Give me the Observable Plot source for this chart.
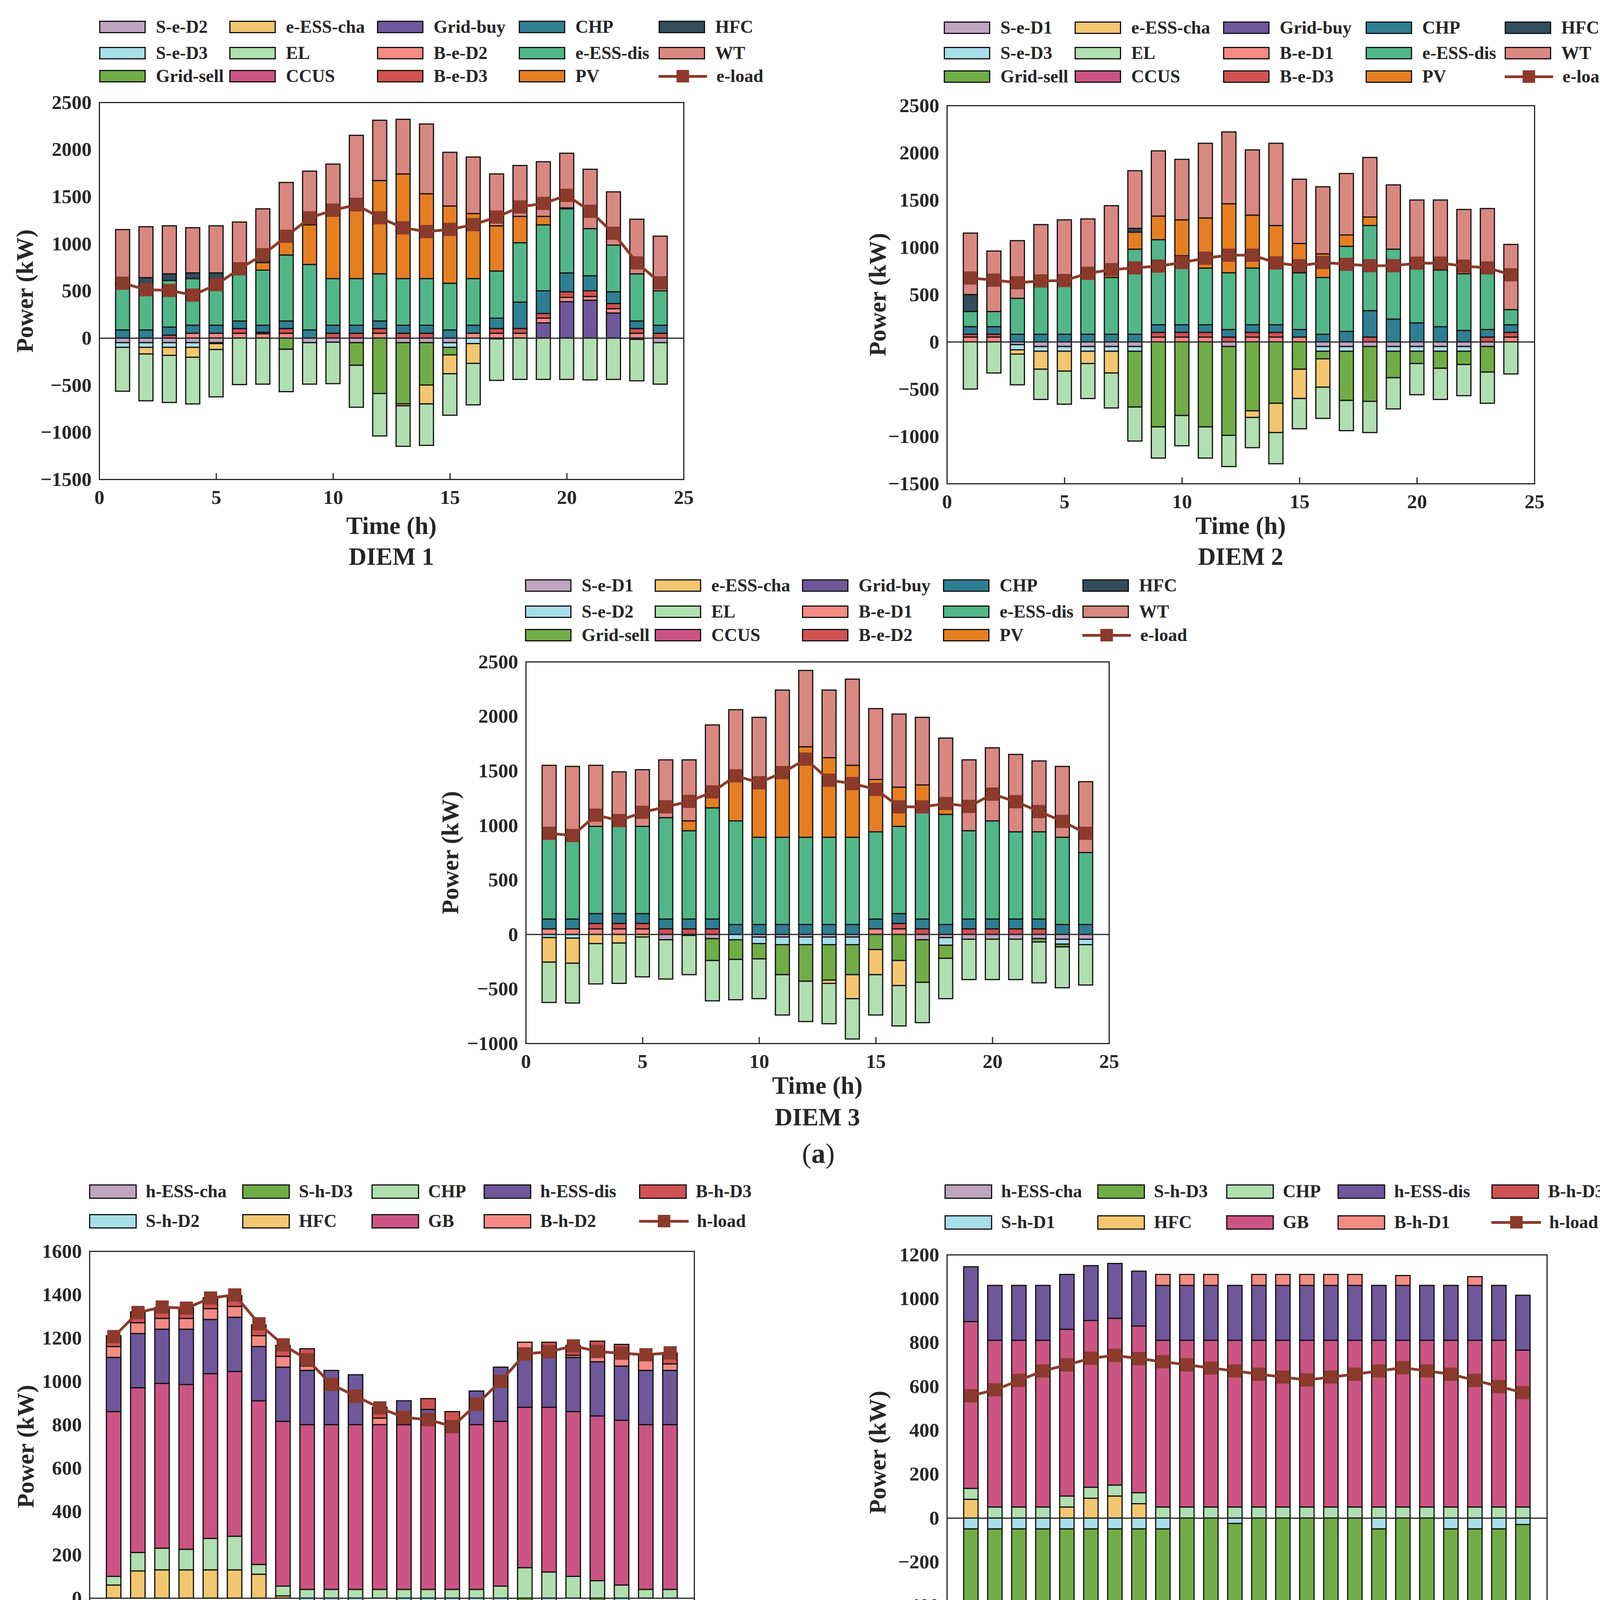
<!DOCTYPE html>
<html><head><meta charset="utf-8">
<script src="https://cdn.jsdelivr.net/npm/d3@7"></script>
<script src="https://cdn.jsdelivr.net/npm/@observablehq/plot@0.6"></script>
<style>
html,body{margin:0;padding:0;background:#fff;}
body{width:4155px;height:6000px;position:relative;font-family:"Liberation Serif","Times New Roman",serif;font-weight:bold;color:#262626;}
.t{position:absolute;white-space:nowrap;line-height:1;}
.sw{position:absolute;box-sizing:border-box;border:3px solid #111;}
</style></head>
<body>
<script>
// ---------- shared ----------
const hours = [1,2,3,4,5,6,7,8,9,10,11,12,13,14,15,16,17,18,19,20,21,22,23,24];
const xTicks = [0,5,10,15,20,25];
const yTicksA12 = [-1500,-1000,-500,0,500,1000,1500,2000,2500];
const yTicksA3 = [-1000,-500,0,500,1000,1500,2000,2500];
const yTicksB13 = [-200,0,200,400,600,800,1000,1200,1400,1600];
const yTicksB2 = [-600,-400,-200,0,200,400,600,800,1000,1200];

// ---------- (a) DIEM 1 electric ----------
const a1_SeD2 = [-50,-50,-50,-50,-50,0,0,0,-50,-45,-50,0,-50,-50,-50,0,-10,0,0,0,0,0,-15,-50];
const a1_SeD3 = [-50,-50,-50,-50,-10,0,0,0,0,0,0,0,0,0,-50,-60,0,0,0,0,0,0,0,0];
const a1_GridSell = [0,0,0,0,0,0,0,-120,0,0,-240,-590,-650,-450,-80,0,0,0,0,0,0,0,0,0];
const a1_EssCha = [0,-70,-85,-105,-63,0,0,0,0,0,0,0,-20,-200,-200,-210,0,0,0,0,0,0,0,0];
const a1_EL = [-465,-497,-500,-495,-502,-495,-490,-450,-440,-440,-445,-450,-430,-440,-440,-440,-440,-440,-440,-440,-445,-440,-440,-440];
const a1_CCUS = [0,0,0,0,0,0,0,0,0,0,0,0,0,0,0,0,0,0,0,0,0,0,0,0];
const a1_GridBuy = [0,0,0,0,0,0,0,0,0,0,0,0,0,0,0,0,0,0,160,385,400,265,0,0];
const a1_BeD2 = [0,0,0,50,50,50,45,50,0,0,0,50,0,0,0,50,50,50,50,45,40,45,50,0];
const a1_BeD3 = [0,0,30,0,0,50,15,50,0,50,50,50,50,50,0,0,50,50,50,60,60,55,50,50];
const a1_CHP = [85,85,85,85,85,80,75,80,85,85,85,80,85,85,85,85,110,280,240,200,160,125,80,85];
const a1_EssDis = [485,490,495,495,495,510,585,700,695,495,495,500,495,495,495,495,500,630,700,680,500,495,500,365];
const a1_PV = [0,0,0,0,0,0,80,215,420,685,850,990,1110,900,820,690,480,280,90,10,0,0,0,0];
const a1_HFC = [0,65,70,60,60,0,25,0,0,0,0,0,0,0,0,0,0,0,0,0,0,0,0,0];
const a1_WT = [580,540,510,480,500,540,545,555,570,530,670,640,580,740,570,600,550,540,580,580,630,565,580,580];
const a1_eLoad = [583,514,506,456,568,736,886,1081,1277,1358,1415,1277,1170,1131,1154,1204,1285,1392,1430,1515,1346,1112,798,587];

// ---------- (a) DIEM 2 electric ----------
const a2_SeD1 = [0,0,-30,-50,-50,-50,-50,-50,0,0,0,-50,0,0,0,-50,-50,-50,-50,-50,-50,-50,-50,0];
const a2_SeD3 = [0,0,-55,-50,-50,-50,-50,-50,0,0,0,0,0,0,0,-50,-50,0,-50,-50,-50,-50,0,0];
const a2_GridSell = [0,0,0,0,0,0,0,-590,-900,-780,-900,-940,-730,-650,-290,-80,-520,-580,-280,-130,-180,-140,-270,0];
const a2_EssCha = [0,0,-45,-190,-210,-130,-230,0,0,0,0,0,-70,-310,-310,-300,0,0,0,0,0,0,0,0];
const a2_EL = [-500,-330,-325,-320,-350,-370,-370,-360,-330,-320,-330,-330,-320,-330,-320,-330,-320,-330,-330,-330,-330,-330,-330,-340];
const a2_CCUS = [0,0,0,0,0,0,0,0,0,0,0,0,0,0,0,0,0,0,0,0,0,0,0,0];
const a2_GridBuy = [0,0,0,0,0,0,0,0,0,0,0,0,0,0,0,0,0,0,0,0,0,0,0,0];
const a2_BeD1 = [50,50,0,0,0,0,0,0,50,50,50,0,50,50,50,0,0,0,0,0,0,0,0,50];
const a2_BeD3 = [30,30,0,0,0,0,0,0,50,50,50,50,50,50,0,0,0,50,0,0,0,0,50,50];
const a2_CHP = [80,80,80,80,80,80,80,80,80,80,80,80,80,80,80,80,110,280,240,200,160,120,80,80];
const a2_EssDis = [160,160,380,560,620,660,600,900,900,730,600,600,600,600,600,600,900,900,740,600,600,600,600,160];
const a2_PV = [0,0,0,0,0,0,40,180,250,380,530,730,560,450,310,250,120,90,0,0,0,0,0,0];
const a2_HFC = [180,0,0,0,0,0,0,40,0,0,0,0,0,0,0,0,0,0,0,0,0,0,0,0];
const a2_WT = [650,640,610,600,590,560,720,610,690,640,790,760,690,870,680,710,650,630,680,700,740,680,680,690];
const a2_eLoad = [677,654,627,646,650,727,765,784,803,841,887,918,918,837,807,841,822,807,807,834,834,803,784,711];

// ---------- (a) DIEM 3 electric ----------
const a3_SeD1 = [0,0,0,0,0,-50,-10,-40,0,-25,-25,-25,-25,-25,0,0,-50,-30,-45,-45,-45,-40,-45,-45];
const a3_SeD2 = [-30,-35,0,0,0,0,0,0,-50,-60,-70,-70,-70,-70,0,0,0,-70,0,0,0,0,-45,-50];
const a3_GridSell = [0,0,0,0,0,0,0,-200,-180,-140,-275,-335,-325,-275,-140,-240,-390,-120,0,0,0,-30,-25,0];
const a3_EssCha = [-225,-230,-85,-80,-25,0,0,0,0,0,0,0,-30,-220,-230,-230,0,0,0,0,0,0,0,0];
const a3_EL = [-370,-365,-370,-370,-365,-360,-360,-370,-370,-365,-370,-370,-370,-370,-370,-370,-370,-370,-370,-370,-370,-375,-375,-370];
const a3_CCUS = [0,0,0,0,0,0,0,0,0,0,0,0,0,0,0,0,0,0,0,0,0,0,0,0];
const a3_GridBuy = [0,0,0,0,0,0,0,0,0,0,0,0,0,0,0,0,0,0,0,0,0,0,0,0];
const a3_BeD1 = [50,50,50,50,50,0,0,0,0,0,0,0,0,0,50,50,0,0,0,0,0,0,0,0];
const a3_BeD2 = [0,0,50,50,50,50,50,50,0,0,0,0,0,0,0,50,50,0,50,50,50,50,0,0];
const a3_CHP = [90,90,90,90,90,90,90,90,90,90,90,90,90,90,90,90,90,90,90,90,90,90,90,90];
const a3_EssDis = [740,740,800,800,800,930,810,1020,950,800,800,800,800,800,800,800,1000,1010,810,900,800,800,800,660];
const a3_PV = [0,0,0,0,0,0,90,150,420,490,610,830,730,660,480,360,230,50,0,0,0,0,0,0];
const a3_HFC = [0,0,0,0,0,0,0,0,0,0,0,0,0,0,0,0,0,0,0,0,0,0,0,0];
const a3_WT = [670,660,560,500,520,530,560,610,600,610,740,700,620,790,650,670,620,650,650,670,710,650,650,650];
const a3_eLoad = [928,908,1095,1045,1121,1171,1221,1308,1455,1392,1485,1608,1415,1385,1331,1171,1171,1201,1175,1288,1218,1128,1038,928];

// ---------- (b) DIEM 1 heat ----------
const b1_hEssCha = [0,0,0,0,0,0,0,0,0,0,0,0,0,0,0,0,0,0,0,0,0,0,0,0];
const b1_ShD2 = [0,0,0,0,0,0,0,0,-50,-50,-50,0,-50,-50,-50,-50,-50,0,-47,0,0,-40,0,0];
const b1_ShD3 = [0,0,0,0,0,0,0,0,0,-20,-50,0,-25,-45,-15,-10,-20,-50,0,0,-50,0,0,0];
const b1_HFC = [60,125,130,130,130,130,110,10,0,0,0,0,0,0,0,0,0,0,0,0,0,0,0,0];
const b1_CHP = [40,85,100,95,145,155,45,45,40,40,40,40,40,40,40,40,55,140,120,100,80,60,40,40];
const b1_GB = [760,760,760,760,760,760,755,760,760,760,760,760,760,760,760,760,760,740,760,760,760,760,760,760];
const b1_hEssDis = [250,250,250,255,250,250,250,250,250,250,230,0,110,70,0,155,250,250,250,250,250,250,250,250];
const b1_BhD2 = [50,50,50,50,50,50,50,50,20,0,0,30,0,0,0,0,0,50,30,10,50,50,70,30];
const b1_BhD3 = [50,50,50,50,50,50,50,50,80,0,0,50,0,50,60,0,0,0,20,45,45,50,0,50];
const b1_hLoad = [1207,1318,1343,1338,1385,1399,1266,1169,1100,986,932,878,834,824,792,895,1001,1127,1137,1164,1138,1130,1123,1132];

// ---------- (b) DIEM 2 heat ----------
const b2_hEssCha = [0,0,0,0,0,0,0,0,0,0,0,0,0,0,0,0,0,0,0,0,0,0,0,0];
const b2_ShD1 = [-50,-50,-50,-50,-50,-50,-50,-50,-50,0,0,-25,0,0,0,0,0,-50,0,0,-50,-50,-50,-30];
const b2_ShD3 = [-540,-420,-380,-340,-360,-375,-370,-345,-345,-410,-425,-365,-455,-470,-480,-470,-455,-340,-420,-390,-355,-420,-410,-415];
const b2_HFC = [85,0,0,0,50,90,100,65,0,0,0,0,0,0,0,0,0,0,0,0,0,0,0,0];
const b2_CHP = [50,50,50,50,50,50,50,50,50,50,50,50,50,50,50,50,50,50,50,50,50,50,50,50];
const b2_GB = [760,760,760,760,760,760,760,760,760,760,760,760,760,760,760,760,760,760,760,760,760,760,760,715];
const b2_hEssDis = [250,250,250,250,250,250,250,250,250,250,250,250,250,250,250,250,250,250,250,250,250,250,250,250];
const b2_BhD1 = [0,0,0,0,0,0,0,0,50,50,50,0,50,50,50,50,50,0,45,0,0,40,0,0];
const b2_BhD3 = [0,0,0,0,0,0,0,0,0,0,0,0,0,0,0,0,0,0,0,0,0,0,0,0];
const b2_hLoad = [558,585,628,671,699,729,742,727,713,699,684,671,656,643,630,643,656,671,686,671,656,628,600,572];

// ---------- (b) DIEM 3 heat ----------
const b3_hEssCha = [0,0,0,0,0,0,0,0,0,0,0,0,0,0,0,0,0,0,0,0,0,0,0,0];
const b3_ShD1 = [-50,-50,-50,-50,-50,-50,-50,-50,-50,0,0,-50,0,-50,-50,0,0,0,-50,-50,-45,-50,-20,-50];
const b3_ShD2 = [0,0,0,0,0,0,0,0,0,0,0,0,0,0,0,0,0,0,0,0,0,0,0,0];
const b3_HFC = [0,0,0,0,0,0,0,0,0,0,0,0,0,0,0,0,0,0,0,0,0,0,0,0];
const b3_BhD2 = [535,420,380,335,360,375,365,345,345,410,420,365,455,465,480,465,455,340,420,390,355,420,410,410];
const b3_CHP = [45,45,45,50,45,45,45,45,45,45,50,45,40,45,45,45,40,45,45,40,40,45,45,45];
const b3_GB = [380,675,765,760,760,760,765,760,760,760,760,760,765,760,760,760,765,760,760,765,765,760,500,350];
const b3_hEssDis = [0,0,100,230,250,250,250,250,240,110,30,175,20,0,0,15,70,170,205,220,205,125,250,250];
const b3_BhD1 = [0,0,0,0,0,0,0,0,0,0,40,0,0,50,20,0,0,55,0,0,20,0,0,0];
const b3_hLoad = [906,1089,1238,1322,1362,1379,1370,1352,1337,1321,1310,1293,1280,1266,1251,1280,1326,1364,1379,1362,1337,1295,1180,1003];

// ---------- styles ----------
const COL = {
  lav:"#C0A5C1", lblue:"#A8DEEA", green:"#71AD47", yellow:"#F2C76F", lgreen:"#B0DFB0",
  magenta:"#CC5483", purple:"#6E579B", salmon:"#F48B84", red:"#D15252", teal:"#2E7F92",
  ess:"#52B788", orange:"#E67F22", slate:"#344D5B", wt:"#D98880", load:"#8C3A2B"
};
const INK = "#262626";
const TICK_FS = 51, LEG_FS = 46, LAB_FS = 63;

// ---------- panel definitions ----------
const panels = [
 { frame:[254,262,1496,965], yDomain:[-1500,2500], yTicks:yTicksA12,
   stack:[["S-e-D2",a1_SeD2],["S-e-D3",a1_SeD3],["Grid-sell",a1_GridSell],["e-ESS-cha",a1_EssCha],["EL",a1_EL],["CCUS",a1_CCUS],
          ["Grid-buy",a1_GridBuy],["B-e-D2",a1_BeD2],["B-e-D3",a1_BeD3],["CHP",a1_CHP],["e-ESS-dis",a1_EssDis],["PV",a1_PV],["HFC",a1_HFC],["WT",a1_WT]],
   load:["e-load",a1_eLoad],
   legend:[["S-e-D2","lav"],["S-e-D3","lblue"],["Grid-sell","green"],["e-ESS-cha","yellow"],["EL","lgreen"],["CCUS","magenta"],["Grid-buy","purple"],["B-e-D2","salmon"],["B-e-D3","red"],["CHP","teal"],["e-ESS-dis","ess"],["PV","orange"],["HFC","slate"],["WT","wt"],["e-load","line"]],
   leg:{left:254, rows:[69,136,195], cols:[0,333,711,1074,1432], sw:[119,32]},
   title:"DIEM 1", timeY:1346, titleY:1425, ylabX:63 },
 { frame:[2424,270,1504,968], yDomain:[-1500,2500], yTicks:yTicksA12,
   stack:[["S-e-D1",a2_SeD1],["S-e-D3",a2_SeD3],["Grid-sell",a2_GridSell],["e-ESS-cha",a2_EssCha],["EL",a2_EL],["CCUS",a2_CCUS],
          ["Grid-buy",a2_GridBuy],["B-e-D1",a2_BeD1],["B-e-D3",a2_BeD3],["CHP",a2_CHP],["e-ESS-dis",a2_EssDis],["PV",a2_PV],["HFC",a2_HFC],["WT",a2_WT]],
   load:["e-load",a2_eLoad],
   legend:[["S-e-D1","lav"],["S-e-D3","lblue"],["Grid-sell","green"],["e-ESS-cha","yellow"],["EL","lgreen"],["CCUS","magenta"],["Grid-buy","purple"],["B-e-D1","salmon"],["B-e-D3","red"],["CHP","teal"],["e-ESS-dis","ess"],["PV","orange"],["HFC","slate"],["WT","wt"],["e-load","line"]],
   leg:{left:2416, rows:[71,136,196], cols:[0,335,715,1080,1436], sw:[119,32]},
   title:"DIEM 2", timeY:1346, titleY:1425, ylabX:2246 },
 { frame:[1346,1694,1493,977], yDomain:[-1000,2500], yTicks:yTicksA3,
   stack:[["S-e-D1",a3_SeD1],["S-e-D2",a3_SeD2],["Grid-sell",a3_GridSell],["e-ESS-cha",a3_EssCha],["EL",a3_EL],["CCUS",a3_CCUS],
          ["Grid-buy",a3_GridBuy],["B-e-D1",a3_BeD1],["B-e-D2",a3_BeD2],["CHP",a3_CHP],["e-ESS-dis",a3_EssDis],["PV",a3_PV],["HFC",a3_HFC],["WT",a3_WT]],
   load:["e-load",a3_eLoad],
   legend:[["S-e-D1","lav"],["S-e-D2","lblue"],["Grid-sell","green"],["e-ESS-cha","yellow"],["EL","lgreen"],["CCUS","magenta"],["Grid-buy","purple"],["B-e-D1","salmon"],["B-e-D2","red"],["CHP","teal"],["e-ESS-dis","ess"],["PV","orange"],["HFC","slate"],["WT","wt"],["e-load","line"]],
   leg:{left:1344, rows:[1499,1566,1626], cols:[0,332,709,1070,1427], sw:[119,32]},
   title:"DIEM 3", timeY:2779, titleY:2860, ylabX:1152 },
 { frame:[229,3203,1548,999], yDomain:[-200,1600], yTicks:yTicksB13,
   stack:[["h-ESS-cha",b1_hEssCha],["S-h-D2",b1_ShD2],["S-h-D3",b1_ShD3],["HFC",b1_HFC],["CHP",b1_CHP],["GB",b1_GB],["h-ESS-dis",b1_hEssDis],["B-h-D2",b1_BhD2],["B-h-D3",b1_BhD3]],
   load:["h-load",b1_hLoad],
   legend:[["h-ESS-cha","lav"],["S-h-D2","lblue"],["S-h-D3","green"],["HFC","yellow"],["CHP","lgreen"],["GB","magenta"],["h-ESS-dis","purple"],["B-h-D2","salmon"],["B-h-D3","red"],["h-load","line"]],
   leg:{left:228, rows:[3050,3126], cols:[0,392,723,1010,1408], sw:[122,37]},
   title:"DIEM 1", timeY:4323, titleY:4404, ylabX:65 },
 { frame:[2424,3212,1536,1011], yDomain:[-600,1200], yTicks:yTicksB2,
   stack:[["h-ESS-cha",b2_hEssCha],["S-h-D1",b2_ShD1],["S-h-D3",b2_ShD3],["HFC",b2_HFC],["CHP",b2_CHP],["GB",b2_GB],["h-ESS-dis",b2_hEssDis],["B-h-D1",b2_BhD1],["B-h-D3",b2_BhD3]],
   load:["h-load",b2_hLoad],
   legend:[["h-ESS-cha","lav"],["S-h-D1","lblue"],["S-h-D3","green"],["HFC","yellow"],["CHP","lgreen"],["GB","magenta"],["h-ESS-dis","purple"],["B-h-D1","salmon"],["B-h-D3","red"],["h-load","line"]],
   leg:{left:2418, rows:[3050,3129], cols:[0,391,721,1006,1400], sw:[122,37]},
   title:"DIEM 2", timeY:4335, titleY:4404, ylabX:2246 },
 { frame:[1346,4648,1525,1007], yDomain:[-200,1600], yTicks:yTicksB13,
   stack:[["h-ESS-cha",b3_hEssCha],["S-h-D1",b3_ShD1],["S-h-D2",b3_ShD2],["HFC",b3_HFC],["B-h-D2",b3_BhD2],["CHP",b3_CHP],["GB",b3_GB],["h-ESS-dis",b3_hEssDis],["B-h-D1",b3_BhD1]],
   load:["h-load",b3_hLoad],
   legend:[["h-ESS-cha","lav"],["S-h-D1","lblue"],["S-h-D2","green"],["HFC","yellow"],["CHP","lgreen"],["GB","magenta"],["h-ESS-dis","purple"],["B-h-D1","salmon"],["B-h-D2","red"],["h-load","line"]],
   leg:{left:1344, rows:[4482,4561], cols:[0,386,715,997,1390], sw:[122,37]},
   title:"DIEM 3", timeY:5755, titleY:5837, ylabX:1152 }
];

function addText(str, x, y, size, extra = "") {
  const d = document.createElement("div");
  d.className = "t";
  d.textContent = str;
  d.style.cssText += `left:${x}px;top:${y}px;font-size:${size}px;transform:translate(-50%,-50%) ${extra};`;
  document.body.appendChild(d);
  return d;
}

function buildPanel(p) {
  const [L, T, W, H] = p.frame;
  const mL = 300, mR = 30, mT = 30, mB = 110;
  const rows = [];
  for (const [name, vals] of p.stack) vals.forEach((v, i) => { if (v !== 0) rows.push({hour: hours[i], value: v, series: name}); });
  const loadRows = hours.map((h, i) => ({hour: h, value: p.load[1][i]}));
  const bars = p.legend.filter(d => d[1] !== "line");
  const svg = Plot.plot({
    width: W + mL + mR, height: H + mT + mB,
    marginLeft: mL, marginRight: mR, marginTop: mT, marginBottom: mB,
    style: {fontFamily: '"Liberation Serif","Times New Roman",serif', fontWeight: "bold", fontSize: TICK_FS + "px", color: INK, background: "transparent", maxWidth: "none", overflow: "visible"},
    x: {domain: [0, 25], axis: null},
    y: {domain: p.yDomain, axis: null},
    color: {domain: bars.map(d => d[0]), range: bars.map(d => COL[d[1]])},
    marks: [
      Plot.rectY(rows, {x1: d => d.hour - 0.3, x2: d => d.hour + 0.3, y: "value", fill: "series", stroke: "#111", strokeWidth: 3, order: null}),
      Plot.ruleY([0], {stroke: INK, strokeWidth: 3}),
      Plot.line(loadRows, {x: "hour", y: "value", stroke: COL.load, strokeWidth: 7}),
      Plot.dot(loadRows, {x: "hour", y: "value", symbol: "square", r: 18.5, fill: COL.load, stroke: COL.load, strokeWidth: 1}),
      Plot.ruleX(xTicks, {stroke: INK, strokeWidth: 3, insetTop: H - 16}),
      Plot.frame({stroke: INK, strokeWidth: 3}),
      Plot.axisX(xTicks, {tickSize: 0, tickPadding: 26, tickFormat: d3.format("d"), label: null}),
      Plot.axisY(p.yTicks, {tickSize: 0, tickPadding: 20, tickFormat: d3.format("d"), label: null})
    ]
  });
  const wrap = document.createElement("div");
  wrap.style.cssText = `position:absolute;left:${L - mL}px;top:${T - mT}px;width:${W + mL + mR}px;height:${H + mT + mB}px;`;
  wrap.appendChild(svg);
  document.body.appendChild(wrap);

  // legend (column-major, like the original figure)
  const nR = p.leg.rows.length;
  const [sw, sh] = p.leg.sw;
  p.legend.forEach(([name, key], i) => {
    const c = Math.floor(i / nR), r = i % nR;
    const x = p.leg.left + p.leg.cols[c], yc = p.leg.rows[r];
    if (key === "line") {
      const ln = document.createElement("div");
      ln.style.cssText = `position:absolute;left:${x}px;top:${yc - 3.5}px;width:${sw + 5}px;height:7px;background:${COL.load};`;
      document.body.appendChild(ln);
      const sq = document.createElement("div");
      sq.style.cssText = `position:absolute;left:${x + (sw + 5) / 2 - 16}px;top:${yc - 16}px;width:32px;height:32px;background:${COL.load};`;
      document.body.appendChild(sq);
      const t = addText(name, x + 148, yc, LEG_FS);
      t.style.transform = "translate(0,-50%)";
    } else {
      const s = document.createElement("div");
      s.className = "sw";
      s.style.cssText += `left:${x}px;top:${yc - sh / 2}px;width:${sw}px;height:${sh}px;background:${COL[key]};`;
      document.body.appendChild(s);
      const t = addText(name, x + 145, yc, LEG_FS);
      t.style.transform = "translate(0,-50%)";
    }
  });

  addText("Time (h)", L + W / 2, p.timeY, LAB_FS);
  addText(p.title, L + W / 2, p.titleY, LAB_FS);
  addText("Power (kW)", p.ylabX, T + H / 2, LAB_FS - 2, "rotate(-90deg)");
}

panels.forEach(buildPanel);

const la = addText("", 2095, 2953, 72);
la.innerHTML = '<span style="font-weight:normal">(</span>a<span style="font-weight:normal">)</span>';
const lb = addText("", 2100, 5941, 72);
lb.innerHTML = '<span style="font-weight:normal">(</span>b<span style="font-weight:normal">)</span>';
</script>
</body></html>
